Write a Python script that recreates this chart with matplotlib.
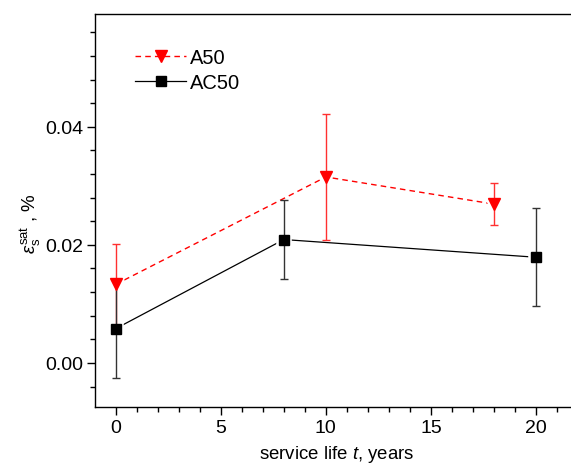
import numpy as np
import matplotlib
matplotlib.use('Agg')
import matplotlib.pyplot as plt
from matplotlib.ticker import MultipleLocator

plt.rcParams['font.family'] = ['Liberation Sans', 'DejaVu Sans']
plt.rcParams['mathtext.fontset'] = 'custom'
plt.rcParams['mathtext.rm'] = 'Liberation Sans'
plt.rcParams['mathtext.it'] = 'Liberation Sans:italic'

# -- data --
a50_t = [0, 10, 18]
a50_eps = [0.0133, 0.0315, 0.0269]
a50_err = [0.0068, 0.0106, 0.0036]

ac50_t = [0, 8, 20]
ac50_eps = [0.0058, 0.0209, 0.0179]
ac50_err = [0.0084, 0.0067, 0.0083]

fig = plt.figure(figsize=(5.71, 4.64), dpi=100)
ax = fig.add_axes([0.1664, 0.1207, 0.8336, 0.8470])

red = '#ff0000'

# connecting lines
ax.plot(a50_t, a50_eps, color=red, linestyle=(0, (4, 3)), linewidth=1.0, zorder=2)
ax.plot(ac50_t, ac50_eps, color='black', linestyle='-', linewidth=0.9, zorder=2)

# white halo so the lines stop short of the symbols
ax.plot(a50_t, a50_eps, linestyle='none', marker='v', markersize=9,
        markerfacecolor='white', markeredgecolor='white', markeredgewidth=4, zorder=3)
ax.plot(ac50_t, ac50_eps, linestyle='none', marker='s', markersize=6.5,
        markerfacecolor='white', markeredgecolor='white', markeredgewidth=4, zorder=3)

# error bars
ax.errorbar(a50_t, a50_eps, yerr=a50_err, fmt='none', ecolor='#ff3030',
            elinewidth=1.0, capsize=2.8, capthick=1.0, zorder=4)
ax.errorbar(ac50_t, ac50_eps, yerr=ac50_err, fmt='none', ecolor='#333333',
            elinewidth=1.0, capsize=2.8, capthick=1.0, zorder=4)

# symbols
ax.plot(a50_t, a50_eps, linestyle='none', marker='v', markersize=9,
        color=red, markeredgecolor=red, zorder=5)
ax.plot(ac50_t, ac50_eps, linestyle='none', marker='s', markersize=6.5,
        color='black', zorder=5)

# legend handles
h1, = ax.plot([], [], color=red, linestyle=(0, (4, 3)), linewidth=1.0,
              marker='v', markersize=9)
h2, = ax.plot([], [], color='black', linestyle='-', linewidth=0.9,
              marker='s', markersize=6.5)
ax.legend([h1, h2], ['A50', 'AC50'], loc='upper left', bbox_to_anchor=(0.068, 0.933),
          frameon=False, fontsize=14.5, handlelength=2.5, handletextpad=0.2,
          labelspacing=0.3, borderaxespad=0)

ax.set_xlim(-0.98, 21.66)
ax.set_ylim(-0.00746, 0.0591)

ax.xaxis.set_major_locator(MultipleLocator(5))
ax.xaxis.set_minor_locator(MultipleLocator(1))
ax.yaxis.set_major_locator(MultipleLocator(0.02))
ax.yaxis.set_minor_locator(MultipleLocator(0.004))
ax.yaxis.set_major_formatter(matplotlib.ticker.FormatStrFormatter('%.2f'))

ax.tick_params(which='major', direction='out', length=5.5, width=1.0,
               labelsize=14, pad=3)
ax.tick_params(which='minor', direction='out', length=3.5, width=1.0)
ax.tick_params(top=False, right=False)

ax.spines['right'].set_visible(False)
for s in ['left', 'bottom', 'top']:
    ax.spines[s].set_linewidth(1.0)

ax.set_xlabel('service life $\\it{t}$, years', fontsize=13.4)
ax.xaxis.set_label_coords(0.508, -0.092)
ax.set_ylabel('$\\it{\\varepsilon}_{\\rm s}^{\\rm sat}$ , %', fontsize=13.5)
ax.yaxis.set_label_coords(-0.11, 0.47)

fig.savefig('out.png', dpi=100)
